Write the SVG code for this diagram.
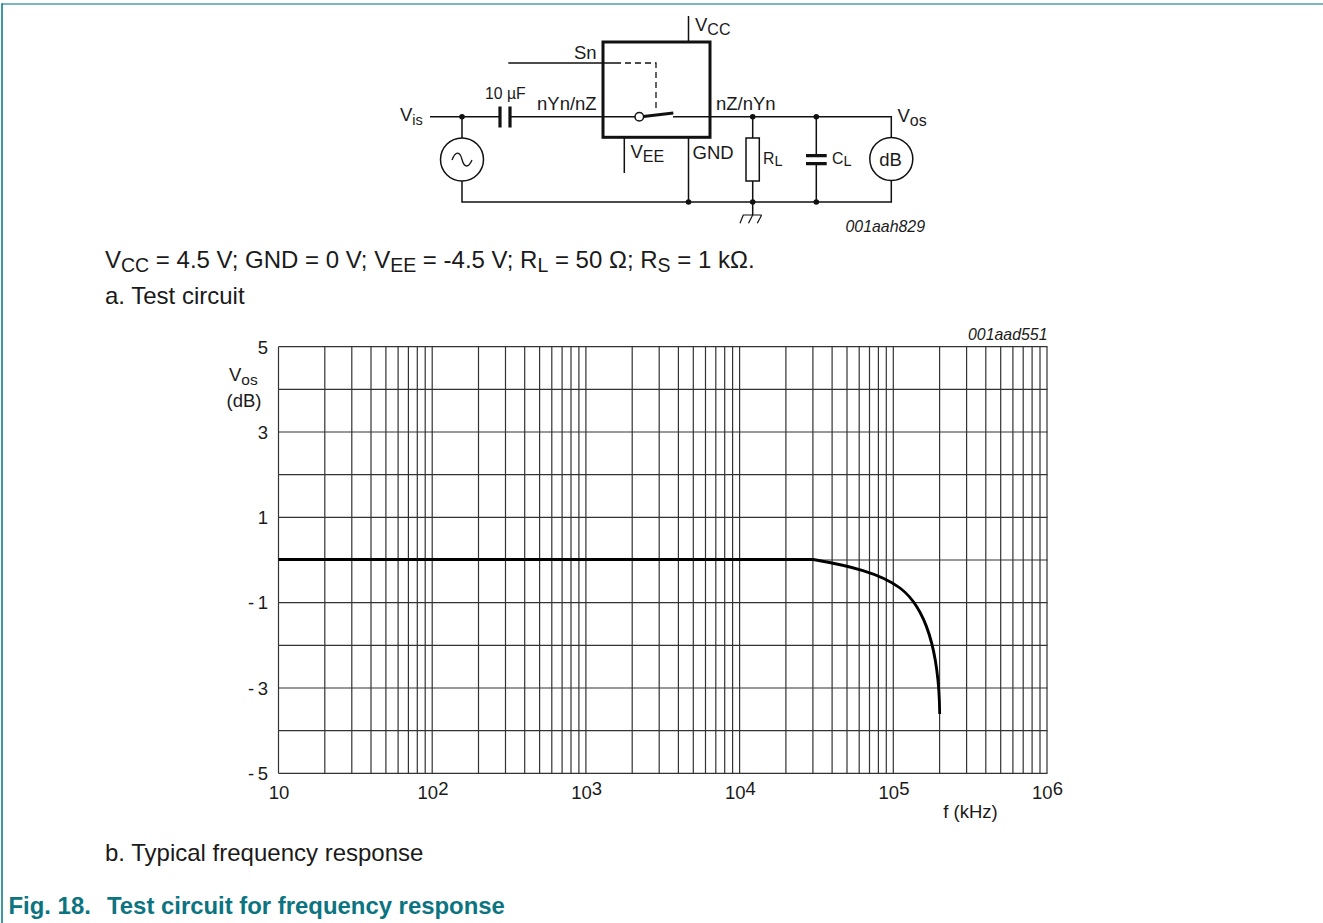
<svg xmlns="http://www.w3.org/2000/svg" width="1323" height="923" viewBox="0 0 1323 923">
<style>
text{font-family:"Liberation Sans",Arial,sans-serif;fill:#1a1a1a}
.b{font-size:24px}
.c{font-size:23.9px;font-weight:bold;fill:#0b7480}
.l{font-size:18.5px}
.s{font-size:15.8px}
.i{font-size:15.9px;font-style:italic}
.a{font-size:18.5px}
.w{fill:none;stroke:#111;stroke-width:1.5}
.g{fill:none;stroke:#333;stroke-width:1.2}
.d{fill:#111}
</style>
<rect width="1323" height="923" fill="#fff"/>
<g id="frame" fill="none" stroke-width="1.6"><path d="M1323 4H2" stroke="#4f9fa8"/><path d="M2 3.2V923" stroke="#0f7f88"/></g>
<g id="connectors">
<path class="w" d="M430 116.7H500M510 116.7H639M673 116.7H891.3V137.5M462 116.7V138M462 181V202H891.3V180.5M508.3 63H615M688.5 16V42M624.3 137V173M688.5 137V202M752.7 116.7V138M752.7 181V215M816.3 116.7V155M816.3 164V202"/>
<path d="M615 63H656V112" fill="none" stroke="#111" stroke-width="1.3" stroke-dasharray="6 4"/>
<path d="M643.5 116.5L673.3 113" fill="none" stroke="#111" stroke-width="3"/>
<path d="M743 215H761.7M743.3 215L740 223.3M752.7 215L748.5 223.3M761.7 215L757.3 223.3" fill="none" stroke="#111" stroke-width="1.2"/>
</g>
<g id="switch-box"><rect x="603" y="42" width="107" height="95.3" fill="none" stroke="#111" stroke-width="3"/><circle cx="639.3" cy="116.7" r="4.3" fill="#fff" stroke="#111" stroke-width="1.5"/></g>
<g id="capacitor-in"><path d="M500 106.5V127.5M510 106.5V127.5" stroke="#111" stroke-width="3.2"/></g>
<g id="source"><circle cx="462" cy="159.5" r="21.5" fill="#fff" stroke="#111" stroke-width="1.5"/><path d="M452 160C456 150 460 152 462 159.5S468 169 472 160" fill="none" stroke="#111" stroke-width="1.3"/></g>
<g id="resistor"><rect x="746" y="138" width="13.3" height="43" fill="#fff" stroke="#111" stroke-width="1.5"/></g>
<g id="capacitor-out"><path d="M806 155.6H826.7M806 163.7H826.7" stroke="#111" stroke-width="3.3"/></g>
<g id="meter"><circle cx="891.3" cy="159" r="21.5" fill="#fff" stroke="#111" stroke-width="1.5"/><text class="l" x="890.5" y="166" text-anchor="middle">dB</text></g>
<g id="junctions" class="d"><circle cx="462" cy="116.7" r="2.8"/><circle cx="752.7" cy="116.7" r="2.8"/><circle cx="816.3" cy="116.7" r="2.8"/><circle cx="688.5" cy="202" r="2.8"/><circle cx="752.7" cy="202" r="2.8"/><circle cx="816.3" cy="202" r="2.8"/></g>
<g id="circuit-labels">
<text class="l" x="695" y="31">V<tspan font-size="16" dy="4">CC</tspan></text>
<text class="l" x="574" y="59">Sn</text>
<text class="l" x="400" y="121">V<tspan font-size="14.5" dy="4">is</tspan></text>
<text class="s" x="485" y="99">10 µF</text>
<text class="l" x="537" y="110">nYn/nZ</text>
<text class="l" x="716" y="110">nZ/nYn</text>
<text class="l" x="630.5" y="158">V<tspan font-size="16" dy="4">EE</tspan></text>
<text class="l" x="692.5" y="159">GND</text>
<text class="s" x="763" y="164">R<tspan font-size="14.5" dy="2">L</tspan></text>
<text class="s" x="832" y="164">C<tspan font-size="14.5" dy="2">L</tspan></text>
<text class="l" x="897.5" y="122">V<tspan font-size="16" dy="4">os</tspan></text>
<text class="i" x="845.5" y="232">001aah829</text>
</g>
<text class="b" x="105" y="268">V<tspan font-size="19.5" dy="4">CC</tspan><tspan dy="-4"> = 4.5 V; GND = 0 V; V</tspan><tspan font-size="19.5" dy="4">EE</tspan><tspan dy="-4"> = -4.5 V; R</tspan><tspan font-size="19.5" dy="4">L</tspan><tspan dy="-4"> = 50 Ω; R</tspan><tspan font-size="19.5" dy="4">S</tspan><tspan dy="-4"> = 1 kΩ.</tspan></text>
<text class="b" x="105" y="304">a. Test circuit</text>
<g id="chart">
<path class="g" d="M278.5 346.7H1047.5M278.5 389.4H1047.5M278.5 432H1047.5M278.5 474.7H1047.5M278.5 517.4H1047.5M278.5 560H1047.5M278.5 602.7H1047.5M278.5 645.4H1047.5M278.5 688H1047.5M278.5 730.7H1047.5M278.5 773.3H1047.5"/>
<path class="g" d="M278.5 346.7V773.3M324.8 346.7V773.3M351.8 346.7V773.3M371 346.7V773.3M385.9 346.7V773.3M398.1 346.7V773.3M408.4 346.7V773.3M417.3 346.7V773.3M425.2 346.7V773.3M432.2 346.7V773.3M478.5 346.7V773.3M505.5 346.7V773.3M524.7 346.7V773.3M539.6 346.7V773.3M551.8 346.7V773.3M562.1 346.7V773.3M571 346.7V773.3M578.9 346.7V773.3M585.9 346.7V773.3M632.2 346.7V773.3M659.2 346.7V773.3M678.4 346.7V773.3M693.3 346.7V773.3M705.5 346.7V773.3M715.8 346.7V773.3M724.7 346.7V773.3M732.6 346.7V773.3M739.6 346.7V773.3M785.9 346.7V773.3M812.9 346.7V773.3M832.1 346.7V773.3M847 346.7V773.3M859.2 346.7V773.3M869.5 346.7V773.3M878.4 346.7V773.3M886.3 346.7V773.3M893.3 346.7V773.3M939.6 346.7V773.3M966.6 346.7V773.3M985.8 346.7V773.3M1000.7 346.7V773.3M1012.9 346.7V773.3M1023.2 346.7V773.3M1032.1 346.7V773.3M1040 346.7V773.3M1047 346.7V773.3"/>
<path d="M278.5 559.5H813.3C850 566 880 573 900 588C925 607 939 650 939.7 714" fill="none" stroke="#000" stroke-width="2.8"/>
<text class="i" x="968" y="340">001aad551</text>
<g class="a" text-anchor="end" word-spacing="-1.5">
<text x="268" y="354">5</text><text x="268" y="439">3</text><text x="268" y="524">1</text><text x="268" y="609">- 1</text><text x="268" y="695">- 3</text><text x="268" y="780">- 5</text>
</g>
<text class="a" x="229" y="381">V<tspan font-size="15.5" dy="4">os</tspan></text>
<text class="a" x="226.5" y="407">(dB)</text>
<g class="a" text-anchor="middle">
<text x="279" y="799">10</text>
<text x="433" y="799">10<tspan dy="-4.5">2</tspan></text>
<text x="586.7" y="799">10<tspan dy="-4.5">3</tspan></text>
<text x="740.4" y="799">10<tspan dy="-4.5">4</tspan></text>
<text x="894" y="799">10<tspan dy="-4.5">5</tspan></text>
<text x="1047.5" y="799">10<tspan dy="-4.5">6</tspan></text>
<text x="970.5" y="818">f (kHz)</text>
</g>
</g>
<text class="b" x="105" y="861">b. Typical frequency response</text>
<text class="c" x="8.5" y="914">Fig. 18.</text>
<text class="c" x="107" y="914">Test circuit for frequency response</text>
</svg>
